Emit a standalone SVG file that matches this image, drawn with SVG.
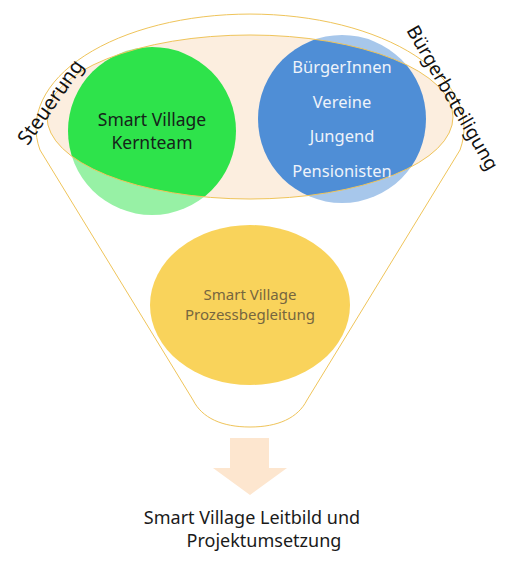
<svg xmlns="http://www.w3.org/2000/svg" width="505" height="565" viewBox="0 0 505 565">
<style>
.t{font-family:"Noto Sans","Open Sans",sans-serif;text-anchor:middle}
.gold{fill:none;stroke:#EFC45A;stroke-width:1}
</style>
<rect width="505" height="565" fill="#fff"/>
<g id="funnel">
<path id="funnelBody" d="M40,150 A214,114 0 1 1 460,150 L307,400 C298,418 278,427 250,427 C222,427 202,418 193,400 Z" fill="#fff"/>
<ellipse id="rim" cx="250" cy="117" rx="203" ry="82" fill="#FCEEDF"/>
</g>
<g id="kernteam">
<circle cx="152" cy="131" r="84" fill="#2EE34B"/>
</g>
<g id="buerger">
<circle cx="342" cy="119" r="84" fill="#4F8ED6"/>
</g>
<g id="overlay">
<path d="M40,150 A214,114 0 1 1 460,150 L307,400 C298,418 278,427 250,427 C222,427 202,418 193,400 Z M47,117 A203,82 0 1 0 453,117 A203,82 0 1 0 47,117 Z" fill="#fff" fill-opacity="0.5" fill-rule="evenodd"/>
<path class="gold" d="M40,150 A214,114 0 1 1 460,150 L307,400 C298,418 278,427 250,427 C222,427 202,418 193,400 Z"/>
<ellipse class="gold" cx="250" cy="117" rx="203" ry="82"/>
</g>
<g id="kernteam-label">
<text class="t" x="152" y="126" font-size="17.5" fill="#15241a">Smart Village</text>
<text class="t" x="152" y="149" font-size="17.5" fill="#15241a">Kernteam</text>
</g>
<g id="buerger-label" fill="#EEF3FA">
<text class="t" x="342" y="73" font-size="16.5">BürgerInnen</text>
<text class="t" x="342" y="108" font-size="16.5">Vereine</text>
<text class="t" x="342" y="142" font-size="16.5">Jungend</text>
<text class="t" x="342" y="177" font-size="16.5">Pensionisten</text>
</g>
<g id="prozess">
<ellipse cx="250" cy="305" rx="100" ry="80" fill="#F9D35B"/>
<text class="t" x="250" y="300" font-size="15" fill="#76663F">Smart Village</text>
<text class="t" x="250" y="320" font-size="15" fill="#76663F">Prozessbegleitung</text>
</g>
<g id="steuerung">
<text class="t" font-size="20" fill="#111" transform="translate(56,106) rotate(-55)">Steuerung</text>
</g>
<g id="buergerbeteiligung">
<text class="t" font-size="19" fill="#111" transform="translate(447,101) rotate(60)">Bürgerbeteiligung</text>
</g>
<g id="connectors">
<path d="M230,438 H269 V468 H287 L250,495 L213,468 H230 Z" fill="#FDE6CF"/>
</g>
<g id="result">
<text class="t" x="252" y="524" font-size="18" fill="#1a1a1a">Smart Village Leitbild und</text>
<text class="t" x="264" y="547" font-size="18" fill="#1a1a1a">Projektumsetzung</text>
</g>
</svg>
